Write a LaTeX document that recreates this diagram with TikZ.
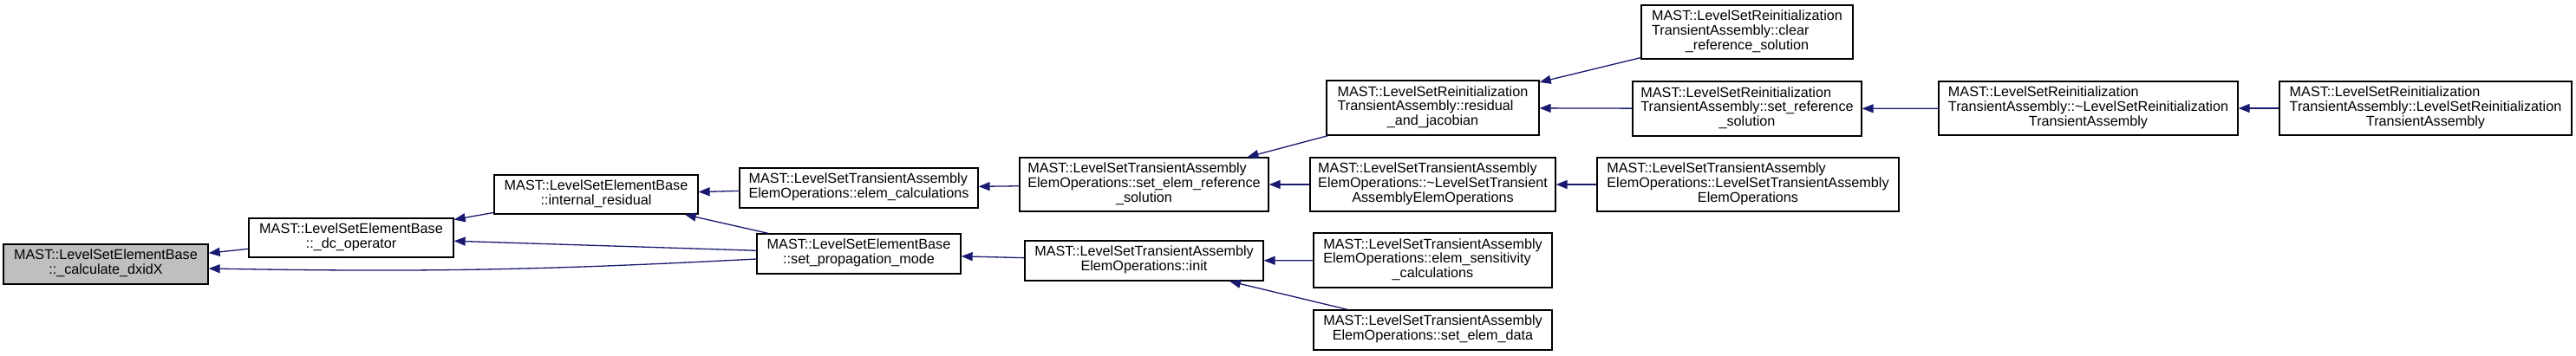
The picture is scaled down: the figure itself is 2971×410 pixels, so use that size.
\documentclass[tikz,border=0pt]{standalone}
\usepackage{fontspec}
\setmainfont{Liberation Sans}
\usepackage{xcolor}
\usepackage{tikz}
\usetikzlibrary{arrows.meta}
\definecolor{edgeblue}{HTML}{191970}
\definecolor{selgray}{HTML}{BFBFBF}
% label: lines left aligned, last line centred
\newcommand{\cgl}[2]{\begin{tabular}{@{}l@{}}#1\\\multicolumn{1}{@{}c@{}}{#2}\end{tabular}}
\tikzset{
  fn/.style={rectangle, draw=black, fill=white, line width=1.3pt, inner sep=0pt,
    font=\fontsize{16.2}{16.8}\selectfont},
  fnsel/.style={fn, fill=selgray},
  call/.style={draw=edgeblue, line width=1.3pt, -{Triangle[length=13pt,width=10pt]}}
}

\begin{document}
\begin{tikzpicture}[x=1pt, y=-1pt]
  \useasboundingbox (0,0) rectangle (2971,410);

  % Selected function
  \node[fnsel, minimum width=236pt, minimum height=46pt] (calc) at (122,305)
    {\cgl{MAST::LevelSetElementBase}{::\_calculate\_dxidX}};

  % LevelSetElementBase callers
  \node[fn, minimum width=236pt, minimum height=45pt] (dc) at (405,274.5)
    {\cgl{MAST::LevelSetElementBase}{::\_dc\_operator}};
  \node[fn, minimum width=235pt, minimum height=45pt] (ires) at (687.5,224.5)
    {\cgl{MAST::LevelSetElementBase}{::internal\_residual}};
  \node[fn, minimum width=235pt, minimum height=46pt] (sprop) at (990.5,293)
    {\cgl{MAST::LevelSetElementBase}{::set\_propagation\_mode}};

  % LevelSetTransientAssemblyElemOperations
  \node[fn, minimum width=275pt, minimum height=46pt] (ecalc) at (990.5,217)
    {\cgl{MAST::LevelSetTransientAssembly}{ElemOperations::elem\_calculations}};
  \node[fn, minimum width=287pt, minimum height=62pt] (seref) at (1319.5,213)
    {\cgl{MAST::LevelSetTransientAssembly\\ElemOperations::set\_elem\_reference}{\_solution}};
  \node[fn, minimum width=275pt, minimum height=46pt] (init) at (1319.5,301)
    {\cgl{MAST::LevelSetTransientAssembly}{ElemOperations::init}};
  \node[fn, minimum width=283pt, minimum height=62pt] (dtorA) at (1652.5,213)
    {\cgl{MAST::LevelSetTransientAssembly\\ElemOperations::\textasciitilde LevelSetTransient}{AssemblyElemOperations}};
  \node[fn, minimum width=275pt, minimum height=63pt] (esens) at (1652.5,300.5)
    {\cgl{MAST::LevelSetTransientAssembly\\ElemOperations::elem\_sensitivity}{\_calculations}};
  \node[fn, minimum width=275pt, minimum height=46pt] (sedata) at (1652.5,381)
    {\cgl{MAST::LevelSetTransientAssembly}{ElemOperations::set\_elem\_data}};
  \node[fn, minimum width=348pt, minimum height=62pt] (ctorA) at (2016,213)
    {\cgl{MAST::LevelSetTransientAssembly\\ElemOperations::LevelSetTransientAssembly}{ElemOperations}};

  % LevelSetReinitializationTransientAssembly
  \node[fn, minimum width=245pt, minimum height=63pt] (resjac) at (1652.5,124.5)
    {\cgl{MAST::LevelSetReinitialization\\TransientAssembly::residual}{\_and\_jacobian}};
  \node[fn, minimum width=244pt, minimum height=62pt] (clref) at (2015,37)
    {\cgl{MAST::LevelSetReinitialization\\TransientAssembly::clear}{\_reference\_solution}};
  \node[fn, minimum width=264pt, minimum height=63pt] (sref) at (2015,125.5)
    {\cgl{MAST::LevelSetReinitialization\\TransientAssembly::set\_reference}{\_solution}};
  \node[fn, minimum width=345pt, minimum height=62pt] (dtorB) at (2408.5,125)
    {\cgl{MAST::LevelSetReinitialization\\TransientAssembly::\textasciitilde LevelSetReinitialization}{TransientAssembly}};
  \node[fn, minimum width=337pt, minimum height=62pt] (ctorB) at (2797.5,125)
    {\cgl{MAST::LevelSetReinitialization\\TransientAssembly::LevelSetReinitialization}{TransientAssembly}};

  % Calls
  \draw[call] (dc) -- (calc);
  \draw[call] ([yshift=-6pt]sprop.west) to[bend left=2] ([yshift=-5pt]calc.east);
  \draw[call] (ires) -- (dc);
  \draw[call] (sprop) -- (dc);
  \draw[call] (ecalc) -- (ires);
  \draw[call] (sprop) -- (ires);
  \draw[call] (seref) -- (ecalc);
  \draw[call] (init) -- (sprop);
  \draw[call] (resjac) -- (seref);
  \draw[call] (dtorA) -- (seref);
  \draw[call] (esens) -- (init);
  \draw[call] (sedata) -- (init);
  \draw[call] (ctorA) -- (dtorA);
  \draw[call] (clref) -- (resjac);
  \draw[call] (sref) -- (resjac);
  \draw[call] (dtorB) -- (sref);
  \draw[call] (ctorB) -- (dtorB);
\end{tikzpicture}
\end{document}
